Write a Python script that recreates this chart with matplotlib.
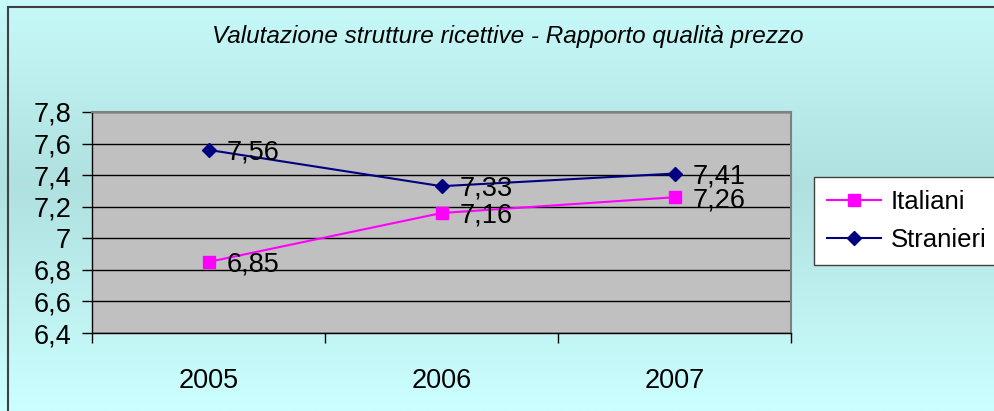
import numpy as np
import matplotlib.pyplot as plt
from matplotlib.patches import Rectangle
from matplotlib.ticker import FuncFormatter, FixedLocator

# --- data ---
anni = ['2005', '2006', '2007']
italiani = [6.85, 7.16, 7.26]
stranieri = [7.56, 7.33, 7.41]
titolo = "Valutazione strutture ricettive - Rapporto qualità prezzo"

plt.rcParams['font.family'] = ['Liberation Sans', 'DejaVu Sans']

W, H = 994, 411
fig = plt.figure(figsize=(W / 100, H / 100), dpi=100)

# background gradient (light cyan -> darker in middle -> light)
bg = fig.add_axes([0, 0, 1, 1], zorder=-10)
yy = np.linspace(0, 1, 256)
shade = np.abs(yy - 0.45) / 0.55
shade = np.clip(shade, 0, 1)
top = np.array([0.80, 1.0, 1.0])
mid = np.array([0.69, 0.88, 0.88])
cols = mid[None, :] + (top - mid)[None, :] * shade[:, None]
bg.imshow(cols[:, None, :], aspect='auto', extent=[0, 1, 0, 1], origin='upper')
bg.set_xlim(0, 1)
bg.set_ylim(0, 1)
bg.axis('off')

# outer chart border
fig.patches.append(Rectangle((8 / W, -0.05), 1.2, 1 - 7 / H + 0.05,
                             transform=fig.transFigure, fill=False,
                             edgecolor='#404040', linewidth=1.5))

fig.text(508 / W, 1 - 36 / H, titolo, ha='center', va='center',
         fontsize=17.5, style='italic')

ax = fig.add_axes([92 / W, 1 - 333 / H, 699 / W, 221 / H])
ax.set_facecolor('#c0c0c0')
x = np.arange(len(anni))

ax.plot(x, italiani, color='#ff00ff', marker='s', markersize=8, linewidth=1.5,
        label='Italiani', zorder=3)
ax.plot(x, stranieri, color='#000080', marker='D', markersize=7, linewidth=1.5,
        label='Stranieri', zorder=3)

for serie in (italiani, stranieri):
    for xi, v in zip(x, serie):
        ax.annotate(f'{v:.2f}'.replace('.', ','), (xi, v), xytext=(13, -2),
                    textcoords='offset points', va='center', ha='left',
                    fontsize=19.5)

ax.set_xlim(-0.5, 2.5)
ax.set_ylim(6.4, 7.8)
ax.set_yticks(np.arange(6.4, 7.81, 0.2))
ax.yaxis.set_major_formatter(FuncFormatter(
    lambda v, p: f'{v:.1f}'.rstrip('0').rstrip('.').replace('.', ',')))
ax.grid(axis='y', color='black', linewidth=1)
ax.set_axisbelow(True)

ax.set_xticks(x)
ax.set_xticklabels(anni)
ax.xaxis.set_minor_locator(FixedLocator([-0.5, 0.5, 1.5, 2.5]))
ax.tick_params(axis='x', which='major', length=0, pad=25, labelsize=19.5)
ax.tick_params(axis='x', which='minor', length=7, width=1)
ax.tick_params(axis='y', length=7, width=1, labelsize=19.5, pad=8)

for s in ['top', 'right']:
    ax.spines[s].set_color('#808080')
    ax.spines[s].set_linewidth(1.5)
for s in ['left', 'bottom']:
    ax.spines[s].set_color('black')
    ax.spines[s].set_linewidth(1)

leg = fig.legend(loc='upper left', bbox_to_anchor=(814 / W, 1 - 177 / H),
                 fontsize=18.5, frameon=True, fancybox=False, framealpha=1,
                 edgecolor='#404040', handlelength=2.1, borderpad=0.5,
                 labelspacing=0.55, handletextpad=0.4, borderaxespad=0)
leg.get_frame().set_linewidth(1)

fig.savefig('out.png', dpi=100)
